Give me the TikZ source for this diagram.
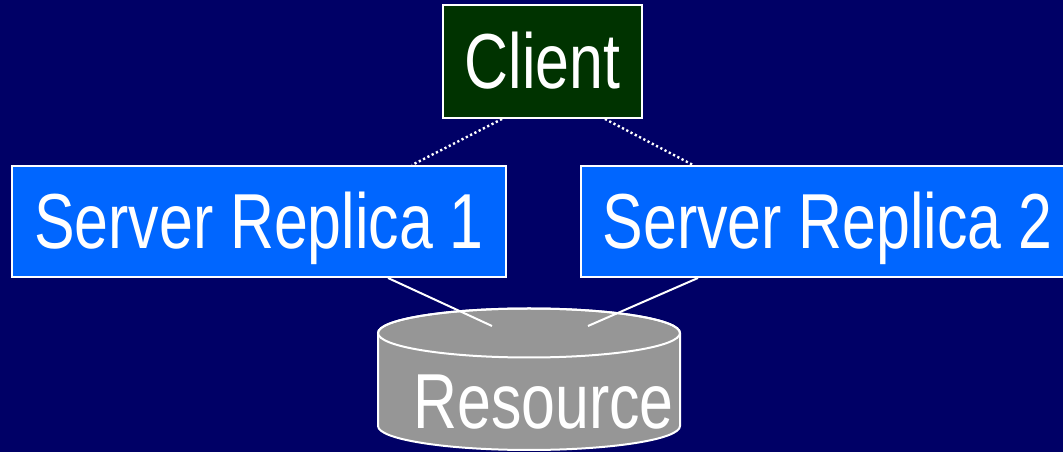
\documentclass[tikz,border=0pt]{standalone}
\usepackage{fontspec}
\setmainfont{Liberation Sans}[FakeStretch=0.78]
\usepackage{tikz}
\usetikzlibrary{positioning, calc}
\definecolor{bgColor}{RGB}{0, 0, 102}
\definecolor{clientColor}{RGB}{0, 51, 0}
\definecolor{replicaColor}{RGB}{0, 102, 255}
\definecolor{resourceColor}{RGB}{150, 150, 150}

\tikzset{
    box/.style={draw=white, line width=2pt, text=white, inner sep=0pt,
        font=\fontsize{78}{80}\selectfont, text height=53.7pt, text depth=0pt},
    link/.style={white, line width=2pt},
    dotlink/.style={white, line width=2.4pt, dash pattern=on 2.2pt off 2.6pt}
}

\begin{document}
\begin{tikzpicture}[x=1pt, y=1pt]
            \useasboundingbox (0,0) rectangle (1063,452);
            \fill[bgColor] (0,0) rectangle (1063,452);
            % boxes
            \node[box, fill=clientColor, minimum width=199pt, minimum height=113pt] (client) at (542.5,390.5) {Client};
            \node[box, fill=replicaColor, minimum width=494pt, minimum height=111pt] (replica1) at (259,230.5) {Server Replica 1};
            \node[box, fill=replicaColor, minimum width=493pt, minimum height=111pt] (replica2) at (827.5,230.5) {Server Replica 2};
            % resource cylinder
            \filldraw[fill=resourceColor, draw=white, line width=2pt]
                (378,119) -- (378,26) arc (180:360:151 and 24) -- (680,119) arc (0:180:151 and 24.5) -- cycle;
            \draw[white, line width=2pt] (529,119) ellipse (151 and 24.5);
            \coordinate (resource) at (529,119);
            \node[box, draw=none] (restext) at (543.5,50.3) {Resource};
            % connections
            \draw[dotlink] ([xshift=-40.5pt]client.south) -- ([xshift=153pt]replica1.north);
            \draw[dotlink] ([xshift=62.5pt]client.south) -- ([xshift=-134.5pt]replica2.north);
            \draw[link] ([xshift=129pt]replica1.south) -- ([shift={(-37pt,7pt)}]resource);
            \draw[link] ([xshift=-129.5pt]replica2.south) -- ([shift={(59pt,7pt)}]resource);
        \end{tikzpicture}
\end{document}
